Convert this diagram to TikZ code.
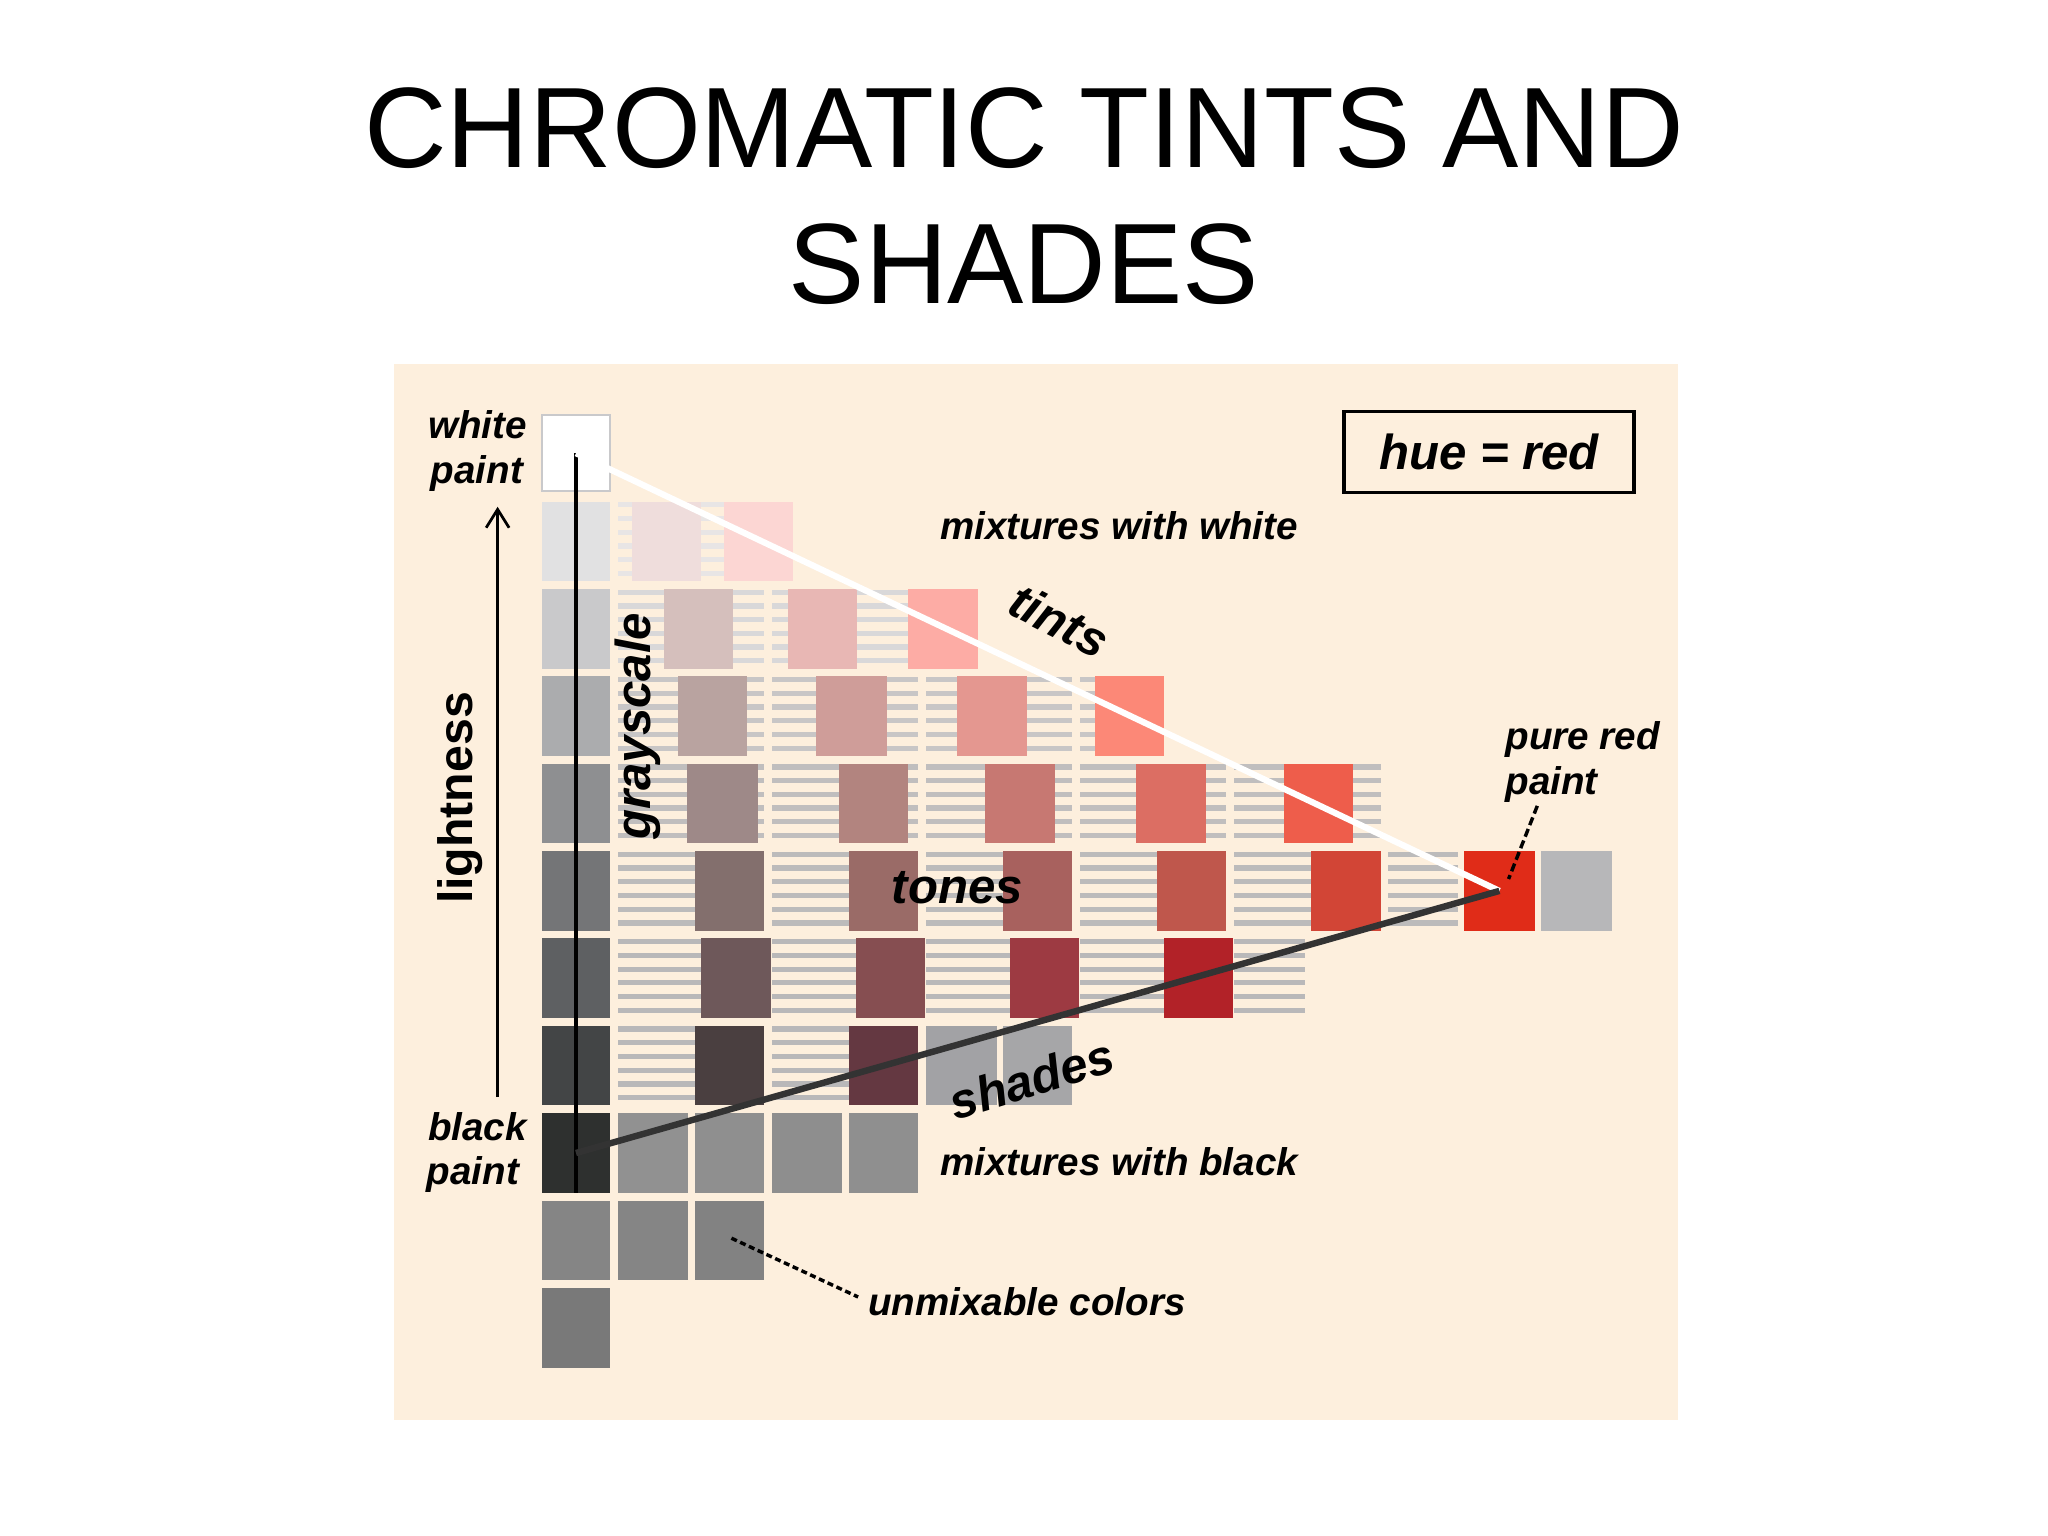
\documentclass[tikz,border=0pt]{standalone}
\usepackage{fontspec}
\setmainfont{Liberation Sans}
\usetikzlibrary{arrows.meta}
\definecolor{panelc}{HTML}{FDEFDD}
\definecolor{darkline}{HTML}{333333}
\definecolor{whiteborder}{HTML}{C9C9CB}
\definecolor{blackcell}{HTML}{2E302F}
\definecolor{purered}{HTML}{E02C18}
\newcommand\pcell[4]{\definecolor{tmpc}{HTML}{#4}\fill[tmpc] (#1,{384+(#3-1)*66.9}) rectangle (#2,{384+(#3-1)*66.9+61});}
\newcommand\pstripes[4]{\definecolor{tmps}{HTML}{#4}\foreach \k in {0,...,5}{\fill[tmps] (#1,{384+(#3-1)*66.9+0.5+\k*10.5}) rectangle (#2,{384+(#3-1)*66.9+4.5+\k*10.5});}}
\tikzset{
  titlefont/.style={font=\fontsize{24.9}{29.9}\selectfont, inner sep=0pt},
  lbl/.style={font=\fontsize{8.4}{10}\selectfont\bfseries\itshape, inner sep=0pt},
  biglbl/.style={font=\fontsize{10.7}{12}\selectfont\bfseries\itshape, inner sep=0pt},
  uplbl/.style={font=\fontsize{10.5}{12}\selectfont\bfseries, inner sep=0pt},
  keycell/.style={minimum width=0.52cm, minimum height=0.61cm, inner sep=0pt, outer sep=0pt},
  pointer/.style={line width=0.75pt, dash pattern=on 1.8pt off 0.9pt},
}
\begin{document}
\begin{tikzpicture}[x=0.01cm,y=-0.01cm]
\useasboundingbox (0,0) rectangle (1568,1176);
\fill[white] (0,0) rectangle (1568,1176);
% title
\node[titlefont, anchor=base] (title1) at (784,128) {CHROMATIC TINTS AND};
\node[titlefont, anchor=base] (title2) at (784,232) {SHADES};
% panel
\fill[panelc] (302,279) rectangle (1285,1087);
% stripes
\pstripes{473}{585}{1}{E8E5E5}
\pstripes{473}{585}{2}{D9D8D9}\pstripes{591}{703}{2}{D9D8D9}
\pstripes{473}{585}{3}{C8C6C6}\pstripes{591}{703}{3}{C8C6C6}\pstripes{709}{821}{3}{C8C6C6}\pstripes{827}{860}{3}{C8C6C6}
\foreach \a/\b in {473/585,591/703,709/821,827/939,945/1057}{\pstripes{\a}{\b}{4}{C0BEBE}}
\foreach \a/\b in {473/585,591/703,709/821,827/939,945/1057,1063/1116}{\pstripes{\a}{\b}{5}{BCBBBB}}
\foreach \a/\b in {473/585,591/703,709/821,827/939,945/999}{\pstripes{\a}{\b}{6}{B9B8B9}}
\foreach \a/\b in {473/585,591/703}{\pstripes{\a}{\b}{7}{B9B8B9}}
% grayscale column
\node[keycell, minimum height=0.58cm, fill=white, draw=whiteborder, line width=0.5pt] (whitepaint) at (441,347) {};
\pcell{415}{467}{1}{E1E1E2}
\pcell{415}{467}{2}{C9C9CB}
\pcell{415}{467}{3}{ABACAE}
\pcell{415}{467}{4}{8E8F91}
\pcell{415}{467}{5}{747577}
\pcell{415}{467}{6}{5E6062}
\pcell{415}{467}{7}{434546}
\node[keycell, fill=blackcell] (blackpaint) at (441,{384+7*66.9+30.5}) {};
\pcell{415}{467}{9}{858585}
\pcell{415}{467}{10}{797979}
% row 1
\pcell{484}{537}{1}{EFDDDC}\pcell{554}{607}{1}{FCD6D3}
% row 2
\pcell{508}{561}{2}{D5BFBC}\pcell{603}{656}{2}{E8B7B4}\pcell{695}{749}{2}{FDACA5}
% row 3
\pcell{519}{572}{3}{B9A3A0}\pcell{625}{679}{3}{CF9D99}\pcell{733}{786}{3}{E49790}\pcell{838}{891}{3}{FC8877}
% row 4
\pcell{526}{580}{4}{9E8988}\pcell{642}{695}{4}{B2847F}\pcell{754}{808}{4}{C77872}\pcell{870}{923}{4}{DC6E63}\pcell{983}{1036}{4}{EE5D4B}
% row 5
\pcell{532}{585}{5}{836F6D}\pcell{650}{703}{5}{9A6B67}\pcell{768}{821}{5}{A8615E}\pcell{886}{939}{5}{BF574C}\pcell{1004}{1057}{5}{D24536}
\node[keycell, minimum width=0.54cm, fill=purered] (redpaint) at (1148,{384+4*66.9+30.5}) {};
\pcell{1180}{1234}{5}{B7B7B9}
% row 6
\pcell{537}{590}{6}{6E585A}\pcell{655}{708}{6}{864E51}\pcell{773}{826}{6}{9D3A42}\pcell{891}{944}{6}{B22228}
% row 7
\pcell{532}{585}{7}{4A3F40}\pcell{650}{703}{7}{643841}\pcell{709}{763}{7}{A2A2A5}\pcell{768}{821}{7}{A6A6A8}
% row 8
\pcell{473}{527}{8}{919191}\pcell{532}{585}{8}{8F8F8F}\pcell{591}{645}{8}{8E8E8E}\pcell{650}{703}{8}{8F8F8F}
% row 9
\pcell{473}{527}{9}{858585}\pcell{532}{585}{9}{828282}
% lines
\draw[line width=0.8pt] (whitepaint.center) -- (blackpaint.south);
\draw[white, line width=1.35pt] (whitepaint.center) -- (redpaint.center);
\draw[darkline, line width=1.4pt] (blackpaint.center) -- (redpaint.center);
% lightness arrow
\coordinate (lbot) at (381,840);
\coordinate (ltop) at (381,388);
\draw[line width=0.6pt, -{Straight Barb[length=4pt,width=5pt]}] (lbot) -- (ltop);
% labels
\node[lbl, anchor=base east] (white1) at (404,336) {white};
\node[lbl, anchor=base east] (white2) at (401,370) {paint};
\node[lbl, anchor=base west] (black1) at (327,873) {black};
\node[lbl, anchor=base west] (black2) at (326,907) {paint};
\node[lbl, anchor=base west] (mixw) at (719,413) {mixtures with white};
\node[lbl, anchor=base west] (mixb) at (719,900) {mixtures with black};
\node[lbl, anchor=base west] (unmix) at (664,1007) {unmixable colors};
\node[lbl, anchor=base west] (pure1) at (1152,574) {pure red};
\node[lbl, anchor=base west] (pure2) at (1152,608) {paint};
\node[biglbl, draw, line width=0.7pt, minimum width=2.22cm, minimum height=0.62cm] (hue) at (1140,346) {hue = red};
\node[biglbl, rotate=-27] (tints) at (811,475) {tints};
\node[biglbl] (tones) at (733,680) {tones};
\node[biglbl, rotate=17] (shades) at (790,826) {shades};
\node[uplbl, rotate=90] (lightness) at (352,611) {lightness};
\node[biglbl, rotate=90] (grayscale) at (488,556) {grayscale};
% pointers
\coordinate (prp) at (1177,617);
\coordinate (prq) at (1155,673);
\draw[pointer] (prp) -- (prq);
\coordinate (ump) at (560,948);
\coordinate (umq) at (657,993);
\draw[pointer, dash pattern=on 1.3pt off 0.8pt] (ump) -- (umq);
\end{tikzpicture}
\end{document}
